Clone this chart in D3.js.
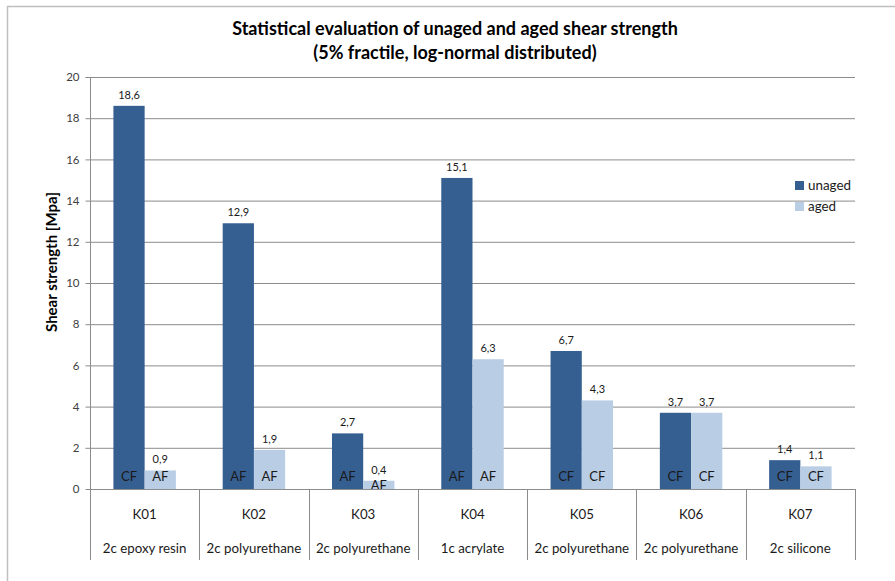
<!DOCTYPE html>
<html>
<head>
<meta charset="utf-8">
<script src="https://cdn.jsdelivr.net/npm/d3@7/dist/d3.min.js"></script>
<style>
  html, body { margin: 0; padding: 0; background: #fff; }
  svg { display: block; font-family: Lato, "Open Sans", sans-serif; }
</style>
</head>
<body>
<svg id="chart" width="895" height="581"></svg>
<script>
// Adhesive samples and their material classes
const codes = ["K01", "K02", "K03", "K04", "K05", "K06", "K07"];
const materials = ["2c epoxy resin", "2c polyurethane", "2c polyurethane", "1c acrylate",
                   "2c polyurethane", "2c polyurethane", "2c silicone"];

// 5% fractile shear strength [MPa]
const unaged = [18.6, 12.9, 2.7, 15.1, 6.7, 3.7, 1.4];
const aged   = [0.9, 1.9, 0.4, 6.3, 4.3, 3.7, 1.1];

// Failure mode of each bar (CF = cohesive, AF = adhesive)
const unagedMode = ["CF", "AF", "AF", "AF", "CF", "CF", "CF"];
const agedMode   = ["AF", "AF", "AF", "AF", "CF", "CF", "CF"];

const yTicks = [0, 2, 4, 6, 8, 10, 12, 14, 16, 18, 20];
const seriesNames = ["unaged", "aged"];
const colors = ["#365f91", "#b9cde5"];

const svg = d3.select("#chart");
const margin = { left: 90, right: 855, top: 77, bottom: 489 };

// outer frame
svg.append("rect")
  .attr("x", 7.5).attr("y", 6.5)
  .attr("width", 900).attr("height", 600)
  .attr("fill", "none").attr("stroke", "#bfbfbf").attr("stroke-width", 1.5);

// title
const title = svg.append("text")
  .attr("text-anchor", "middle")
  .attr("font-weight", "bold")
  .attr("font-size", 18)
  .attr("fill", "#000");
title.append("tspan").attr("x", 455).attr("y", 35)
  .text("Statistical evaluation of unaged and aged shear strength");
title.append("tspan").attr("x", 455).attr("y", 59)
  .text("(5% fractile, log-normal distributed)");

const x = d3.scaleBand().domain(codes).range([margin.left, margin.right]);
const inner = d3.scaleBand().domain(seriesNames).range([0, x.bandwidth()])
  .paddingOuter(0.75).paddingInner(0);
const y = d3.scaleLinear().domain([0, 20]).range([margin.bottom, margin.top]);

// gridlines
svg.append("g").selectAll("line").data(yTicks.filter(t => t > 0)).join("line")
  .attr("x1", margin.left).attr("x2", margin.right)
  .attr("y1", d => y(d) + 0.5).attr("y2", d => y(d) + 0.5)
  .attr("stroke", "#8c8c8c").attr("stroke-width", 1);

// y axis
const yAxis = svg.append("g")
  .attr("transform", `translate(${margin.left + 0.5},0)`)
  .call(d3.axisLeft(y).tickValues(yTicks).tickSize(5).tickPadding(6).tickFormat(d3.format("d")));
yAxis.select(".domain").attr("stroke", "#8c8c8c").attr("d", `M-5,${y(20) + 0.5}H0V${margin.bottom + 0.5}`);
yAxis.selectAll(".tick line").attr("stroke", "#8c8c8c");
yAxis.selectAll(".tick text").attr("font-size", 11.5).attr("fill", "#404040")
  .attr("font-family", "Lato, sans-serif");

// y axis title
svg.append("text")
  .attr("transform", `translate(52,${(margin.top + margin.bottom) / 2 - 21}) rotate(-90)`)
  .attr("text-anchor", "middle")
  .attr("dy", "0.35em")
  .attr("font-weight", "bold")
  .attr("font-size", 15)
  .text("Shear strength [Mpa]");

// bars
const rows = codes.map((c, i) => ({
  code: c,
  bars: [
    { s: "unaged", v: unaged[i], mode: unagedMode[i] },
    { s: "aged", v: aged[i], mode: agedMode[i] }
  ]
}));

const groups = svg.append("g").selectAll("g").data(rows).join("g")
  .attr("transform", d => `translate(${x(d.code)},0)`);

groups.selectAll("rect").data(d => d.bars).join("rect")
  .attr("x", d => inner(d.s))
  .attr("width", inner.bandwidth())
  .attr("y", d => y(d.v))
  .attr("height", d => y(0) - y(d.v))
  .attr("fill", (d, i) => colors[i]);

// value labels
groups.selectAll("text.val").data(d => d.bars).join("text")
  .attr("class", "val")
  .attr("x", d => inner(d.s) + inner.bandwidth() / 2)
  .attr("y", d => y(d.v) - 7)
  .attr("text-anchor", "middle")
  .attr("font-size", 11)
  .attr("fill", "#1a1a1a")
  .text(d => d3.format(".1f")(d.v).replace(".", ","));

// failure mode labels at the bar base
groups.selectAll("text.mode").data(d => d.bars).join("text")
  .attr("class", "mode")
  .attr("x", d => inner(d.s) + inner.bandwidth() / 2)
  .attr("y", d => Math.max(y(0) - 13, y(d.v) + 5))
  .attr("dy", "0.35em")
  .attr("text-anchor", "middle")
  .attr("font-size", 13)
  .attr("fill", "#1a1a1a")
  .text(d => d.mode);

// category axis with dividers
const xa = svg.append("g");
xa.append("line")
  .attr("x1", margin.left).attr("x2", margin.right)
  .attr("y1", margin.bottom + 0.5).attr("y2", margin.bottom + 0.5)
  .attr("stroke", "#8c8c8c");
xa.selectAll("line.div").data(d3.range(codes.length + 1)).join("line")
  .attr("class", "div")
  .attr("x1", i => Math.round(margin.left + i * x.step()) + 0.5)
  .attr("x2", i => Math.round(margin.left + i * x.step()) + 0.5)
  .attr("y1", margin.bottom).attr("y2", 560)
  .attr("stroke", "#8c8c8c");
xa.selectAll("text.code").data(codes).join("text")
  .attr("class", "code")
  .attr("x", d => x(d) + x.bandwidth() / 2)
  .attr("y", 519)
  .attr("text-anchor", "middle")
  .attr("font-size", 13.3)
  .attr("fill", "#1a1a1a")
  .text(d => d);
xa.selectAll("text.mat").data(materials).join("text")
  .attr("class", "mat")
  .attr("x", (d, i) => x(codes[i]) + x.bandwidth() / 2)
  .attr("y", 553)
  .attr("text-anchor", "middle")
  .attr("font-size", 13.3)
  .attr("fill", "#1a1a1a")
  .text(d => d);

// legend
const legend = svg.append("g").selectAll("g").data(seriesNames).join("g")
  .attr("transform", (d, i) => `translate(795,${181 + i * 21})`);
legend.append("rect").attr("width", 9).attr("height", 9)
  .attr("fill", (d, i) => colors[i]);
legend.append("text").attr("x", 13).attr("y", 4.5).attr("dy", "0.35em")
  .attr("font-size", 13.4).attr("fill", "#1a1a1a")
  .text(d => d);
</script>
</body>
</html>
